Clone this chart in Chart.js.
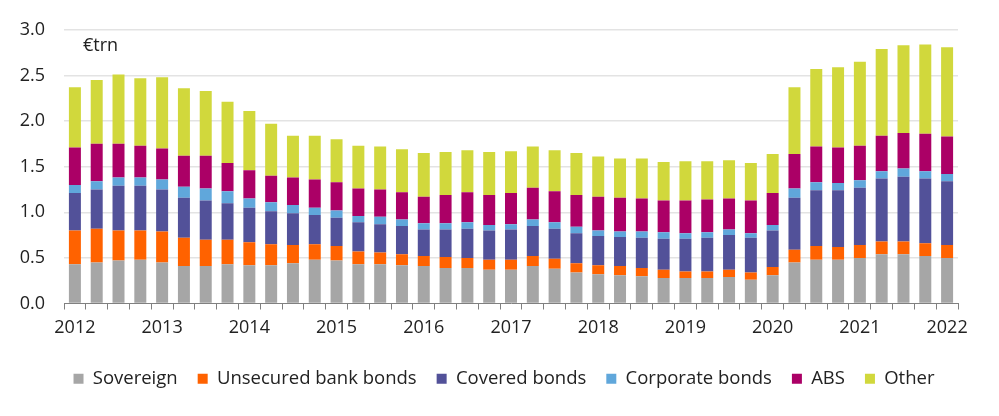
<!DOCTYPE html>
<html>
<head>
<meta charset="utf-8">
<script src="https://cdn.jsdelivr.net/npm/chart.js@4"></script>
<style>
  html, body { margin: 0; padding: 0; background: #fff; }
  #wrap { width: 999px; height: 416px; }
</style>
</head>
<body>
<div id="wrap"><canvas id="myChart"></canvas></div>
<script>
// quarters, Q1 2012 .. Q1 2022
let quarters = [];
for (let y = 2012; y <= 2022; y++) {
  for (let q = 1; q <= 4; q++) {
    if (y == 2022 && q > 1) break;
    quarters.push('Q' + q + ' ' + y);
  }
}

// €trn
let sovereign = [0.43,0.45,0.47,0.48,0.45,0.41,0.41,0.43,0.42,0.42,0.44,0.48,0.47,0.43,0.43,0.42,0.41,0.39,0.39,0.37,0.37,0.41,0.38,0.34,0.32,0.31,0.30,0.28,0.28,0.28,0.29,0.26,0.31,0.45,0.48,0.48,0.50,0.54,0.54,0.52,0.50];
let unsecured = [0.37,0.37,0.33,0.32,0.34,0.31,0.29,0.27,0.25,0.23,0.20,0.17,0.16,0.14,0.13,0.12,0.11,0.12,0.11,0.11,0.11,0.11,0.11,0.10,0.10,0.10,0.09,0.09,0.07,0.07,0.08,0.08,0.09,0.14,0.15,0.14,0.14,0.14,0.14,0.14,0.14];
let covered = [0.41,0.43,0.49,0.49,0.46,0.44,0.43,0.40,0.38,0.36,0.35,0.32,0.31,0.32,0.31,0.31,0.29,0.30,0.32,0.32,0.33,0.33,0.33,0.33,0.32,0.32,0.33,0.34,0.36,0.37,0.38,0.38,0.40,0.57,0.61,0.62,0.63,0.69,0.71,0.71,0.70];
let corporate = [0.09,0.09,0.09,0.09,0.11,0.12,0.13,0.13,0.10,0.10,0.09,0.08,0.08,0.07,0.08,0.07,0.07,0.07,0.07,0.06,0.06,0.07,0.07,0.07,0.06,0.06,0.07,0.07,0.06,0.06,0.06,0.05,0.06,0.10,0.09,0.08,0.08,0.08,0.09,0.08,0.08];
let abs = [0.41,0.41,0.37,0.35,0.34,0.34,0.36,0.31,0.31,0.29,0.30,0.31,0.31,0.30,0.30,0.30,0.29,0.31,0.33,0.33,0.34,0.35,0.34,0.35,0.37,0.37,0.36,0.35,0.36,0.36,0.34,0.36,0.35,0.38,0.39,0.39,0.38,0.39,0.39,0.41,0.41];
let other = [0.66,0.70,0.76,0.74,0.78,0.74,0.71,0.67,0.65,0.57,0.46,0.48,0.47,0.47,0.47,0.47,0.48,0.47,0.46,0.47,0.46,0.45,0.45,0.46,0.44,0.43,0.44,0.42,0.43,0.42,0.42,0.41,0.43,0.73,0.85,0.88,0.92,0.95,0.96,0.98,0.98];

let yTicks = [0, 0.5, 1, 1.5, 2, 2.5, 3];

const fontFam = "'Open Sans', sans-serif";
Chart.defaults.font.family = fontFam;
Chart.defaults.color = '#222';

function ds(label, data, color) {
  return {
    label: label,
    data: data,
    backgroundColor: color,
    borderWidth: 0,
    barPercentage: 0.55,
    categoryPercentage: 1.0
  };
}

// "€trn" unit label inside the plot
const unitLabel = {
  id: 'unitLabel',
  afterDraw(chart) {
    const c = chart.ctx;
    c.save();
    c.font = "18px " + fontFam;
    c.fillStyle = '#222';
    c.textBaseline = 'middle';
    c.fillText('€trn', chart.chartArea.left + 19, 46);
    c.restore();
  }
};

// centre the legend on the whole page, not on the padded box
const legendShift = {
  id: 'legendShift',
  afterLayout(chart) {
    if (chart.legend) {
      chart.legend.left += 25;
      chart.legend.right += 25;
    }
  }
};

let ctx = document.getElementById('myChart');
const myChart = new Chart(ctx, {
  type: 'bar',
  data: {
    labels: quarters,
    datasets: [
      ds('Sovereign', sovereign, '#a6a6a6'),
      ds('Unsecured bank bonds', unsecured, '#ff6200'),
      ds('Covered bonds', covered, '#525199'),
      ds('Corporate bonds', corporate, '#60a7db'),
      ds('ABS', abs, '#ab0066'),
      ds('Other', other, '#d1d83c')
    ]
  },
  options: {
    responsive: true,
    maintainAspectRatio: false,
    animation: false,
    layout: { padding: { top: 29, right: 41, bottom: 18, left: 0 } },
    plugins: {
      legend: {
        position: 'bottom',
        labels: {
          boxWidth: 10,
          boxHeight: 10,
          padding: 20,
          font: { size: 18.5 },
          color: '#222'
        }
      },
      tooltip: { enabled: false }
    },
    scales: {
      x: {
        stacked: true,
        offset: true,
        grid: {
          offset: true,
          drawOnChartArea: false,
          drawTicks: true,
          tickLength: 6,
          color: '#808080'
        },
        border: { color: '#808080', width: 1 },
        ticks: {
          autoSkip: false,
          maxRotation: 0,
          padding: 8,
          font: { size: 18 },
          color: '#222',
          callback: function(v, i) {
            return i % 4 == 0 ? quarters[i].slice(3) : '';
          }
        },
        afterFit: function(s) { s.height = 46; }
      },
      y: {
        stacked: true,
        min: 0,
        max: 3,
        afterBuildTicks: function(s) {
          s.ticks = yTicks.map(v => ({ value: v }));
        },
        grid: {
          drawTicks: false,
          color: function(c) { return c.tick.value == 0 ? 'rgba(0,0,0,0)' : '#e3e3e3'; },
          lineWidth: 1.5
        },
        border: { display: false },
        ticks: {
          padding: 19,
          font: { size: 18 },
          color: '#222',
          callback: function(v) { return v.toFixed(1); }
        },
        afterFit: function(s) { s.width = 64; }
      }
    }
  },
  plugins: [unitLabel, legendShift]
});
</script>
</body>
</html>
